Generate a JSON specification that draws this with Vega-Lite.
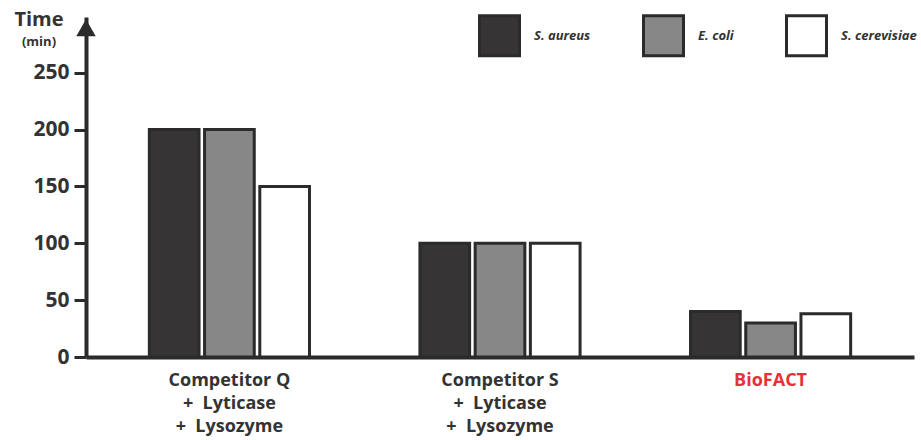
{
  "$schema": "https://vega.github.io/schema/vega-lite/v6.json",
  "width": 828,
  "height": 340,
  "autosize": {"type": "none"},
  "padding": {"left": 86, "top": 17, "right": 7, "bottom": 83},
  "background": "white",
  "config": {
    "view": {"stroke": null},
    "font": "Open Sans"
  },
  "title": {
    "text": "Time",
    "subtitle": "(min)",
    "anchor": "start",
    "frame": "group",
    "align": "center",
    "dx": -47,
    "dy": 35,
    "offset": 0,
    "fontSize": 20,
    "fontWeight": "bold",
    "color": "#333333",
    "subtitleFontSize": 13,
    "subtitleFontWeight": "bold",
    "subtitleColor": "#333333",
    "subtitlePadding": 6
  },
  "datasets": {
    "bars": [
      {"group": "Competitor Q|+  Lyticase|+  Lysozyme", "species": "S. aureus", "time": 200},
      {"group": "Competitor Q|+  Lyticase|+  Lysozyme", "species": "E. coli", "time": 200},
      {"group": "Competitor Q|+  Lyticase|+  Lysozyme", "species": "S. cerevisiae", "time": 150},
      {"group": "Competitor S|+  Lyticase|+  Lysozyme", "species": "S. aureus", "time": 100},
      {"group": "Competitor S|+  Lyticase|+  Lysozyme", "species": "E. coli", "time": 100},
      {"group": "Competitor S|+  Lyticase|+  Lysozyme", "species": "S. cerevisiae", "time": 100},
      {"group": "BioFACT", "species": "S. aureus", "time": 40},
      {"group": "BioFACT", "species": "E. coli", "time": 30},
      {"group": "BioFACT", "species": "S. cerevisiae", "time": 38}
    ]
  },
  "layer": [
    {
      "data": {"name": "bars"},
      "mark": {"type": "bar", "stroke": "#2b2b2b", "strokeWidth": 3, "strokeJoin": "miter"},
      "encoding": {
        "x": {
          "field": "group",
          "type": "nominal",
          "sort": null,
          "scale": {"paddingInner": 0, "paddingOuter": 0.03},
          "axis": {
            "title": null,
            "labelAngle": 0,
            "labelExpr": "split(replace(datum.label, /  /g, '\u00a0\u00a0'), '|')",
            "labelFontSize": 18,
            "labelFontWeight": "bold",
            "labelColor": {"condition": {"test": "datum.value == 'BioFACT'", "value": "#e8303a"}, "value": "#333333"},
            "labelLineHeight": 23,
            "labelPadding": 14,
            "ticks": false,
            "domainColor": "#2b2b2b",
            "domainWidth": 4
          }
        },
        "xOffset": {
          "field": "species",
          "type": "nominal",
          "sort": ["S. aureus", "E. coli", "S. cerevisiae"],
          "scale": {"paddingInner": 0.1, "paddingOuter": 1.075}
        },
        "y": {
          "field": "time",
          "type": "quantitative",
          "scale": {"domain": [0, 299], "nice": false},
          "axis": {
            "title": null,
            "values": [0, 50, 100, 150, 200, 250],
            "grid": false,
            "labelFontSize": 21,
            "labelFontWeight": "bold",
            "labelColor": "#333333",
            "labelPadding": 5,
            "tickSize": 12,
            "tickWidth": 3,
            "tickColor": "#2b2b2b",
            "domainColor": "#2b2b2b",
            "domainWidth": 4
          }
        },
        "fill": {
          "field": "species",
          "type": "nominal",
          "scale": {"domain": ["S. aureus", "E. coli", "S. cerevisiae"], "range": ["#363435", "#878787", "#ffffff"]},
          "legend": {
            "title": null,
            "orient": "none",
            "direction": "horizontal",
            "columns": 3,
            "legendX": 392,
            "legendY": -3,
            "symbolType": "square",
            "symbolSize": 1600,
            "symbolStrokeColor": "#2b2b2b",
            "symbolStrokeWidth": 3,
            "symbolOpacity": 1,
            "labelFontSize": 13,
            "labelFontWeight": "bold",
            "labelFontStyle": "italic",
            "labelColor": "#333333",
            "labelOffset": 13,
            "columnPadding": 46
          }
        }
      }
    },
    {
      "data": {"values": [{"tip": 289.5}]},
      "mark": {"type": "point", "shape": "triangle-up", "filled": true, "color": "#2b2b2b", "size": 380, "opacity": 1},
      "encoding": {
        "x": {"value": 0},
        "y": {"field": "tip", "type": "quantitative"}
      }
    }
  ]
}
